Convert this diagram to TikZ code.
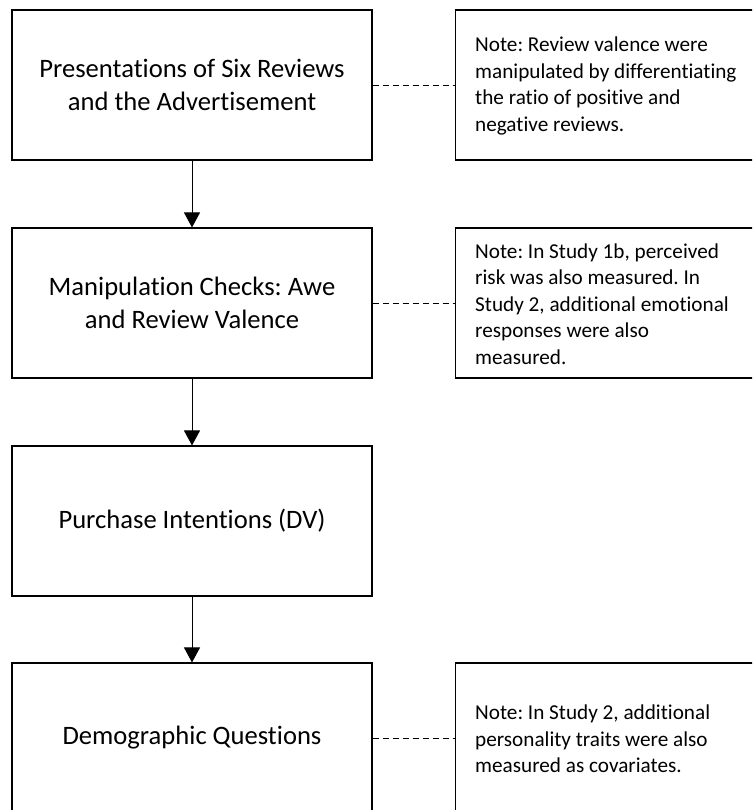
\documentclass[tikz,border=0pt]{standalone}
\usepackage{fontspec}
\setmainfont{Carlito}[Ligatures={NoCommon,NoContextual}]
\usetikzlibrary{arrows.meta}
\frenchspacing
\begin{document}
\begin{tikzpicture}[x=1pt,y=-1pt,
  stepbox/.style={draw, line width=1.1pt, minimum width=360pt, minimum height=150pt, align=center, font=\fontsize{26.6}{32.4}\selectfont, inner sep=0pt},
  notebox/.style={draw, line width=1.1pt, minimum width=330pt, minimum height=150pt, anchor=west, inner sep=0pt},
  notetext/.style={anchor=west, align=left, inner sep=0pt, font=\fontsize{21.2}{26.5}\selectfont},
  flow/.style={line width=1pt, -{Triangle[length=15pt,width=16pt]}},
  link/.style={line width=0.8pt, dash pattern=on 6pt off 4pt}]
\path[use as bounding box, clip] (0,0) rectangle (752,810);

\node[stepbox] (b1) at (192,85) {Presentations of Six Reviews\\and the Advertisement};
\node[stepbox] (b2) at (192,303) {Manipulation Checks: Awe\\and Review Valence};
\node[stepbox] (b3) at (192,521) {Purchase Intentions (DV)};
\node[stepbox] (b4) at (192,738) {Demographic Questions};

\node[notebox] (n1) at (455,85) {};
\node[notebox] (n2) at (455,303) {};
\node[notebox] (n3) at (455,738) {};

\node[notetext] (t1) at (475,86) {Note: Review valence were\\manipulated by differentiating\\the ratio of positive and\\negative reviews.};
\node[notetext] (t2) at (475,304) {Note: In Study 1b, perceived\\risk was also measured. In\\Study 2, additional emotional\\responses were also\\measured.};
\node[notetext] (t3) at (475,739) {Note: In Study 2, additional\\personality traits were also\\measured as covariates.};

\draw[flow] (b1.south) -- (b2.north);
\draw[flow] (b2.south) -- (b3.north);
\draw[flow] (b3.south) -- (b4.north);

\draw[link] (b1.east) -- (n1.west);
\draw[link] (b2.east) -- (n2.west);
\draw[link] (b4.east) -- (n3.west);
\end{tikzpicture}
\end{document}
